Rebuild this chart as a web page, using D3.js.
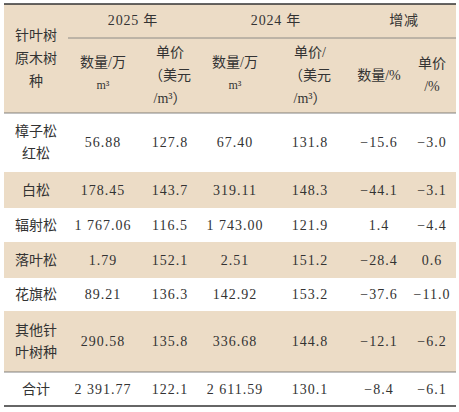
<!DOCTYPE html>
<html><head><meta charset="utf-8">
<script src="https://cdn.jsdelivr.net/npm/d3@7"></script>
<style>body{margin:0;background:#fff}</style></head>
<body><svg id="c" width="459" height="412"></svg>
<script>
const species = [["樟子松","红松"],["白松"],["辐射松"],["落叶松"],["花旗松"],["其他针","叶树种"],["合计"]];
const qty2025 = ["56.88","178.45","1 767.06","1.79","89.21","290.58","2 391.77"];
const price2025 = ["127.8","143.7","116.5","152.1","136.3","135.8","122.1"];
const qty2024 = ["67.40","319.11","1 743.00","2.51","142.92","336.68","2 611.59"];
const price2024 = ["131.8","148.3","121.9","151.2","153.2","144.8","130.1"];
const qtyChg = ["−15.6","−44.1","1.4","−28.4","−37.6","−12.1","−8.4"];
const priceChg = ["−3.0","−3.1","−4.4","0.6","−11.0","−6.2","−6.1"];
const groupHeaders = ["2025 年","2024 年","增减"];
const subHeaders = [["数量/万","m³"],["单价","（美元","/m³）"],["数量/万","m³"],["单价/","（美元","/m³）"],["数量/%"],["单价","/%"]];
const labelHeader = ["针叶树","原木树","种"];

// layout
const X0=4, X1=456, BG="#ecdcc6", TXT="#333";
const colX = [36,103,170,235,310,379,432];
const groupX = [133,276,404];
const rowEdges = [113,172,208,242,278,311,372,406];
const svg = d3.select("#c");
const font = "'Liberation Serif','Noto Sans CJK SC',serif";
const rows = species.map((s,i)=>({s, vals:[qty2025[i],price2025[i],qty2024[i],price2024[i],qtyChg[i],priceChg[i]], y0:rowEdges[i], y1:rowEdges[i+1], shade:i%2===1}));

svg.append("rect").attr("x",X0).attr("y",4).attr("width",X1-X0).attr("height",109).attr("fill",BG);
svg.selectAll("rect.row").data(rows.filter(r=>r.shade)).join("rect").attr("class","row")
  .attr("x",X0).attr("width",X1-X0).attr("y",d=>d.y0).attr("height",d=>d.y1-d.y0).attr("fill",BG);

const t = (x,y,s,size=14)=>svg.append("text").attr("x",x).attr("y",y).attr("text-anchor","middle")
  .attr("dominant-baseline","central").attr("font-family",font).attr("font-size",size).attr("fill",TXT).text(s);

labelHeader.forEach((s,i)=>t(36,35+i*23,s));
groupHeaders.forEach((s,i)=>t(groupX[i],20,s).attr("letter-spacing",0.8));
svg.append("line").attr("x1",68).attr("x2",X1).attr("y1",38).attr("y2",38).attr("stroke","#777").attr("stroke-width",0.8);
const subStart=[62,52,62,52,75,63];
subHeaders.forEach((lines,j)=>lines.forEach((s,k)=>t(colX[j+1],subStart[j]+k*23,s,s.includes("m³")&&lines.length==2?12:14)));

rows.forEach(r=>{
  const cy=(r.y0+r.y1)/2;
  r.s.forEach((s,k)=>t(colX[0],cy+(k-(r.s.length-1)/2)*22,s));
  r.vals.forEach((v,j)=>t(colX[j+1],cy,v).attr("letter-spacing",1));
});

svg.append("line").attr("x1",X0).attr("x2",X1).attr("y1",4).attr("y2",4).attr("stroke","#333").attr("stroke-width",1.6);
svg.append("line").attr("x1",X0).attr("x2",X1).attr("y1",113).attr("y2",113).attr("stroke","#666").attr("stroke-width",0.8);
svg.append("line").attr("x1",X0).attr("x2",X1).attr("y1",372).attr("y2",372).attr("stroke","#666").attr("stroke-width",0.8);
svg.append("line").attr("x1",X0).attr("x2",X1).attr("y1",406).attr("y2",406).attr("stroke","#333").attr("stroke-width",1.6);
</script></body></html>
